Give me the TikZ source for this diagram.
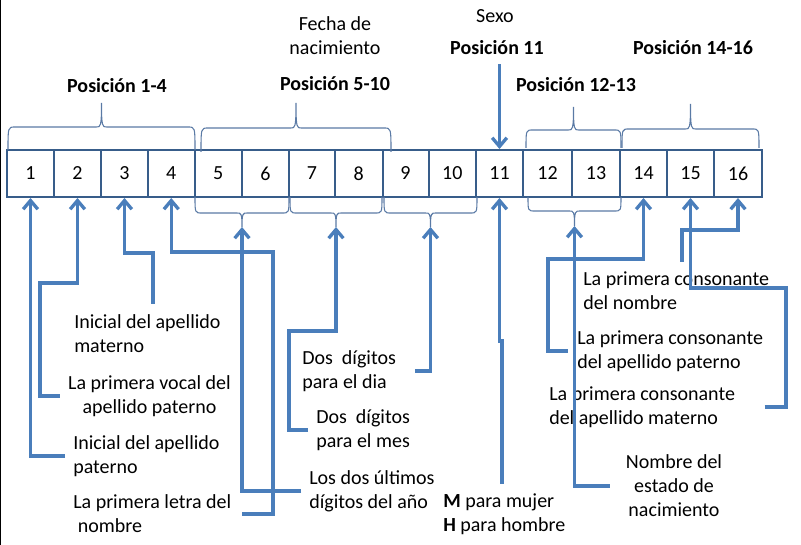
\documentclass[tikz,border=0pt]{standalone}
\usepackage{fontspec}
\setmainfont{Carlito}
\usetikzlibrary{arrows.meta}
\definecolor{boxblue}{HTML}{385D8A}
\definecolor{linkblue}{HTML}{4A7EBB}
\definecolor{braceblue}{HTML}{5A7AA5}

\begin{document}
\begin{tikzpicture}[x=0.75pt,y=-0.75pt,
    font=\fontsize{15}{18}\selectfont,
    cell/.style={draw=boxblue,line width=1.5pt,minimum height=35.25pt,inner sep=0pt},
    bracel/.style={draw=braceblue,line width=0.8pt},
    link/.style={draw=linkblue,line width=2.5pt,-{Straight Barb[length=6.5pt,width=11pt]}},
    lbl/.style={align=left,anchor=west,inner sep=0pt},
    title/.style={font=\fontsize{15}{18}\selectfont\bfseries,inner sep=0pt}]
    \useasboundingbox (0,0) rectangle (801,545);
    \draw[line width=1.1pt] (0.75,0) -- (0.75,545);

    % the sixteen positions
    \foreach \n/\a/\b in {1/7/54,2/54/101,3/101/148,4/148/194.5,5/194.5/242,6/242/289,
        7/289/335,8/335/382.5,9/382.5/428.5,10/428.5/476,11/476/523,12/523/572,
        13/572/620,14/620/667,15/667/714,16/714/762}
      \node[cell,minimum width={(\b-\a)*0.75pt}] (c\n) at ({(\a+\b)/2},173.5) {\n};

    % braces above and below the row
    \foreach \nm/\xa/\xb/\yb/\yl/\yt in {t14/8/195/150/127/103,t510/201/391/152/128/103,
        t1213/526/621/148/130/107,t1416/622/759/148/129/104,
        b56/195/289/197/213/227,b78/290/382/197/213/227,b910/384/477/197/213/227,
        b1213/528/621/197/211/226} {
      \pgfmathsetmacro\xm{(\xa+\xb)/2}
      \draw[bracel] (\xa,\yb) .. controls (\xa,\yl) and (\xa,\yl) .. (\xa+7,\yl)
        -- (\xm-5,\yl) .. controls (\xm-1,\yl) and (\xm,\yl) .. (\xm,\yt)
        .. controls (\xm,\yl) and (\xm+1,\yl) .. (\xm+5,\yl)
        -- (\xb-7,\yl) .. controls (\xb,\yl) and (\xb,\yl) .. (\xb,\yb);
      \coordinate (\nm) at (\xm,\yt);
    }

    % titles
    \node[title] (p14) at (117,86) {Posición 1-4};
    \node[align=center,inner sep=0pt] (fecha) at (335,36) {Fecha de\\nacimiento};
    \node[title] (p510) at (335,84) {Posición 5-10};
    \node[inner sep=0pt] (sexo) at (495,16) {Sexo};
    \node[title] (p11) at (497,48) {Posición 11};
    \node[title] (p1213) at (576,85) {Posición 12-13};
    \node[title] (p1416) at (693,48) {Posición 14-16};

    % descriptions
    \node[lbl] (lmat) at (74,334) {Inicial del apellido\\materno};
    \node[align=center,inner sep=0pt] (lvoc) at (149.5,396) {La primera vocal del\\apellido paterno};
    \node[lbl] (lpat) at (73,456) {Inicial del apellido\\paterno};
    \node[lbl] (lnom) at (73,514) {La primera letra del\\\ nombre};
    \node[lbl] (ldia) at (302,371) {Dos~ dígitos\\para el dia};
    \node[lbl] (lmes) at (316,430) {Dos~ dígitos\\para el mes};
    \node[lbl] (lano) at (309,491) {Los dos últimos\\dígitos del año};
    \node[lbl] (lsex) at (443,514) {\textbf{M} para mujer\\\textbf{H} para hombre};
    \node[align=center,inner sep=0pt] (lest) at (674,486) {Nombre del\\estado de\\nacimiento};
    \node[lbl] (lcnom) at (583,291) {La primera consonante\\del nombre};
    \node[lbl] (lcpat) at (577,351) {La primera consonante\\del apellido paterno};
    \node[lbl] (lcmat) at (549,407) {La primera consonante\\del apellido materno};

    \coordinate (e3) at (153,304);
    \coordinate (e11) at (502,484);
    \coordinate (e16) at (682,262);

    % connectors
    \draw[link] ([xshift=-6pt]lpat.west) -| (c1.south);
    \draw[link] ([xshift=-6pt]lvoc.west) -| (40,283) -| (c2.south);
    \draw[link] (e3) -- (153,253) -| (c3.south);
    \draw[link] ([xshift=8pt]lnom.east) -| (273,252) -| (c4.south);
    \draw[link] ([xshift=-6pt]lano.west) -| (b56);
    \draw[link] ([xshift=-6pt]lmes.west) -| (289,331) -| (b78);
    \draw[link] ([xshift=14pt]ldia.east) -| (b910);
    \draw[link] (c11.north |- p11.south) ++(0,9) -- (c11.north);
    \draw[link] (e11) |- (c11.south |- 0,341) -- (c11.south);
    \draw[link] ([xshift=-12pt]lest.west) -| (b1213);
    \draw[link] ([xshift=-7pt]lcpat.west) -| (548,259) -| (c14.south);
    \draw[link] ([xshift=22pt]lcmat.east) -| (786,288) -| (c15.south);
    \draw[link] (e16) -- (682,230) -| (c16.south);
  \end{tikzpicture}
\end{document}
